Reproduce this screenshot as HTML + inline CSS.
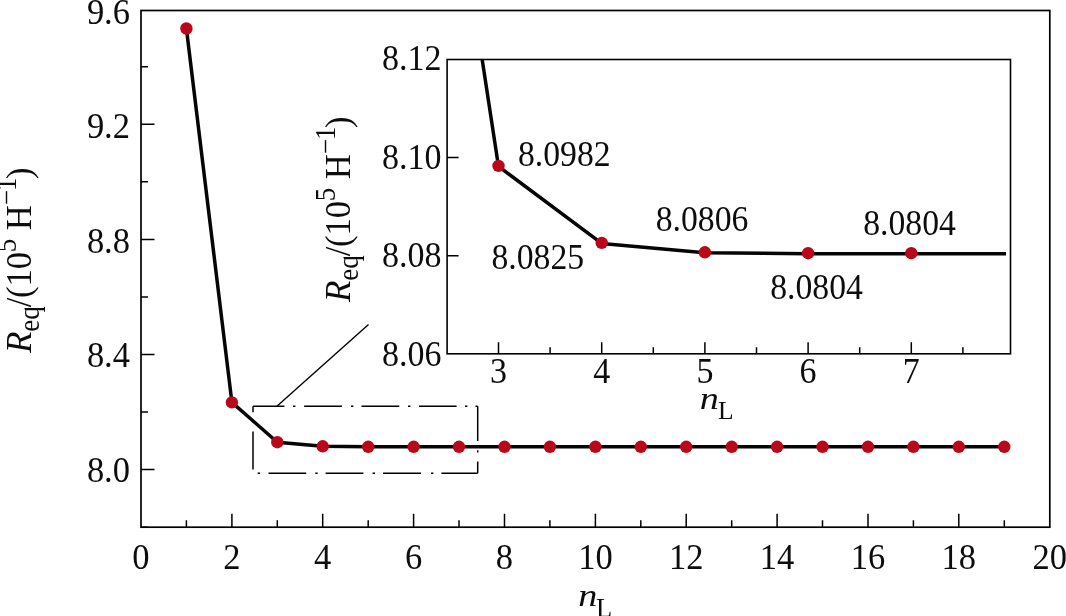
<!DOCTYPE html>
<html lang="en"><head><meta charset="utf-8"><title>Req vs nL</title>
<style>html,body{margin:0;padding:0;background:#fff}body{width:1066px;height:616px;overflow:hidden}svg{display:block}text{font-family:"Liberation Serif","Times New Roman",serif;fill:#0d0d0d}</style></head><body>
<svg width="1066" height="616" viewBox="0 0 1066 616">
<rect width="1066" height="616" fill="#fff"/>
<rect x="141.0" y="10.5" width="908.8" height="516.7" fill="none" stroke="#000" stroke-width="1.7"/>
<path d="M186.4,527.2v-7M231.9,527.2v-13.5M277.3,527.2v-7M322.7,527.2v-13.5M368.2,527.2v-7M413.6,527.2v-13.5M459.0,527.2v-7M504.5,527.2v-13.5M549.9,527.2v-7M595.4,527.2v-13.5M640.8,527.2v-7M686.2,527.2v-13.5M731.7,527.2v-7M777.1,527.2v-13.5M822.5,527.2v-7M868.0,527.2v-13.5M913.4,527.2v-7M958.8,527.2v-13.5M1004.3,527.2v-7M141.0,66.7h7M141.0,124.2h13.5M141.0,181.8h7M141.0,239.4h13.5M141.0,296.9h7M141.0,354.5h13.5M141.0,412.0h7M141.0,469.6h13.5M141.0,527.2h7" stroke="#000" stroke-width="1.5" fill="none"/>
<text transform="translate(141.0,568.8) scale(1,1.06)" font-size="34.5" text-anchor="middle">0</text>
<text transform="translate(231.9,568.8) scale(1,1.06)" font-size="34.5" text-anchor="middle">2</text>
<text transform="translate(322.7,568.8) scale(1,1.06)" font-size="34.5" text-anchor="middle">4</text>
<text transform="translate(413.6,568.8) scale(1,1.06)" font-size="34.5" text-anchor="middle">6</text>
<text transform="translate(504.5,568.8) scale(1,1.06)" font-size="34.5" text-anchor="middle">8</text>
<text transform="translate(595.4,568.8) scale(1,1.06)" font-size="34.5" text-anchor="middle">10</text>
<text transform="translate(686.2,568.8) scale(1,1.06)" font-size="34.5" text-anchor="middle">12</text>
<text transform="translate(777.1,568.8) scale(1,1.06)" font-size="34.5" text-anchor="middle">14</text>
<text transform="translate(868.0,568.8) scale(1,1.06)" font-size="34.5" text-anchor="middle">16</text>
<text transform="translate(958.8,568.8) scale(1,1.06)" font-size="34.5" text-anchor="middle">18</text>
<text transform="translate(1049.7,568.8) scale(1,1.06)" font-size="34.5" text-anchor="middle">20</text>
<text transform="translate(130.0,23.6) scale(1,1.06)" font-size="34.5" text-anchor="end">9.6</text>
<text transform="translate(130.0,138.1) scale(1,1.06)" font-size="34.5" text-anchor="end">9.2</text>
<text transform="translate(130.0,252.6) scale(1,1.06)" font-size="34.5" text-anchor="end">8.8</text>
<text transform="translate(130.0,367.2) scale(1,1.06)" font-size="34.5" text-anchor="end">8.4</text>
<text transform="translate(130.0,481.7) scale(1,1.06)" font-size="34.5" text-anchor="end">8.0</text>
<text transform="translate(578.3,606.3) scale(1.06,0.9)" font-size="36" font-style="italic">n</text>
<text x="596.1" y="616.8" font-size="26.5">L</text>
<g transform="translate(30.5,353) rotate(-90)">
<text x="0" y="0" font-size="35" font-style="italic">R</text>
<text transform="translate(21.3,0) scale(1,1.06)" font-size="34.5"><tspan font-size="27" dy="8">eq</tspan><tspan dy="-8" dx="-1">/</tspan><tspan dx="-0.3">(10</tspan><tspan font-size="27" dy="-14" dx="-0.4">5</tspan><tspan dy="14"> H</tspan><tspan font-size="27" dy="-14">−</tspan><tspan font-size="27" dx="-1">1</tspan><tspan dy="14" dx="-1.5">)</tspan></text>
</g>
<path d="M253.0,406.2H284.4M293,406.2H295.4M304.1,406.2H341.8M351,406.2H353.4M361.5,406.2H399.3M408,406.2H410.4M419,406.2H456.6M465,406.2H467.4M475.5,406.2H477.7M477.7,406.2V441M477.7,450.3V452.6M477.7,461.5V473.2M441.4,473.2H477.7M431,473.2H433.4M383,473.2H421M372.6,473.2H375M325.6,473.2H363.4M315.3,473.2H317.7M268.5,473.2H306.2M257.7,473.2H260.1M253.0,406.2V412.3M253.0,420.5V422.8M253.0,431.5V469.5" stroke="#000" stroke-width="1.5" fill="none"/>
<path d="M276.6,406.4L368.5,324.4" stroke="#000" stroke-width="1.4" fill="none"/>
<polyline points="186.4,28.5 231.9,402.4 277.3,442.2 322.7,446.3 368.2,446.8 413.6,446.8 459.0,446.8 504.5,446.8 549.9,446.8 595.4,446.8 640.8,446.8 686.2,446.8 731.7,446.8 777.1,446.8 822.5,446.8 868.0,446.8 913.4,446.8 958.8,446.8 1004.3,446.8" fill="none" stroke="#050505" stroke-width="3.5" stroke-linejoin="round"/>
<circle cx="186.4" cy="28.5" r="6.2" fill="#b8081a"/>
<circle cx="231.9" cy="402.4" r="6.2" fill="#b8081a"/>
<circle cx="277.3" cy="442.2" r="6.2" fill="#b8081a"/>
<circle cx="322.7" cy="446.3" r="6.2" fill="#b8081a"/>
<circle cx="368.2" cy="446.8" r="6.2" fill="#b8081a"/>
<circle cx="413.6" cy="446.8" r="6.2" fill="#b8081a"/>
<circle cx="459.0" cy="446.8" r="6.2" fill="#b8081a"/>
<circle cx="504.5" cy="446.8" r="6.2" fill="#b8081a"/>
<circle cx="549.9" cy="446.8" r="6.2" fill="#b8081a"/>
<circle cx="595.4" cy="446.8" r="6.2" fill="#b8081a"/>
<circle cx="640.8" cy="446.8" r="6.2" fill="#b8081a"/>
<circle cx="686.2" cy="446.8" r="6.2" fill="#b8081a"/>
<circle cx="731.7" cy="446.8" r="6.2" fill="#b8081a"/>
<circle cx="777.1" cy="446.8" r="6.2" fill="#b8081a"/>
<circle cx="822.5" cy="446.8" r="6.2" fill="#b8081a"/>
<circle cx="868.0" cy="446.8" r="6.2" fill="#b8081a"/>
<circle cx="913.4" cy="446.8" r="6.2" fill="#b8081a"/>
<circle cx="958.8" cy="446.8" r="6.2" fill="#b8081a"/>
<circle cx="1004.3" cy="446.8" r="6.2" fill="#b8081a"/>
<rect x="447.1" y="59.5" width="563.4" height="294.3" fill="#fff" stroke="#000" stroke-width="1.6"/>
<path d="M498.5,353.8v-11.5M550.1,353.8v-6.5M601.7,353.8v-11.5M653.3,353.8v-6.5M704.9,353.8v-11.5M756.5,353.8v-6.5M808.1,353.8v-11.5M859.7,353.8v-6.5M911.3,353.8v-11.5M962.9,353.8v-6.5M447.1,157.6h11.5M447.1,255.7h11.5" stroke="#000" stroke-width="1.5" fill="none"/>
<text transform="translate(498.5,383.1) scale(1,1.06)" font-size="34.0" text-anchor="middle">3</text>
<text transform="translate(601.7,383.1) scale(1,1.06)" font-size="34.0" text-anchor="middle">4</text>
<text transform="translate(704.9,383.1) scale(1,1.06)" font-size="34.0" text-anchor="middle">5</text>
<text transform="translate(808.1,383.1) scale(1,1.06)" font-size="34.0" text-anchor="middle">6</text>
<text transform="translate(911.3,383.1) scale(1,1.06)" font-size="34.0" text-anchor="middle">7</text>
<text transform="translate(441.5,69.8) scale(1,1.06)" font-size="34.0" text-anchor="end">8.12</text>
<text transform="translate(441.5,168.5) scale(1,1.06)" font-size="34.0" text-anchor="end">8.10</text>
<text transform="translate(441.5,267.1) scale(1,1.06)" font-size="34.0" text-anchor="end">8.08</text>
<text transform="translate(441.5,365.8) scale(1,1.06)" font-size="34.0" text-anchor="end">8.06</text>
<text transform="translate(699.7,409.4) scale(1.06,0.9)" font-size="36" font-style="italic">n</text>
<text x="718.1" y="418.8" font-size="25.5">L</text>
<g transform="translate(349.7,302) rotate(-90)">
<text x="0" y="0" font-size="35" font-style="italic">R</text>
<text transform="translate(21.3,0) scale(1,1.06)" font-size="34.5"><tspan font-size="27" dy="8">eq</tspan><tspan dy="-8" dx="-1">/</tspan><tspan dx="-0.3">(10</tspan><tspan font-size="27" dy="-14" dx="-0.4">5</tspan><tspan dy="14"> H</tspan><tspan font-size="27" dy="-14">−</tspan><tspan font-size="27" dx="-1">1</tspan><tspan dy="14" dx="-1.5">)</tspan></text>
</g>
<clipPath id="ic"><rect x="447.1" y="59.5" width="558.9" height="294.3"/></clipPath>
<polyline points="395.3,-509.5 498.5,166.4 601.7,243.4 704.9,252.8 808.1,253.7 911.3,253.7 1014.5,253.7" fill="none" stroke="#050505" stroke-width="3.5" stroke-linejoin="round" clip-path="url(#ic)"/>
<circle cx="498.5" cy="165.9" r="6.2" fill="#b8081a"/>
<circle cx="601.7" cy="242.9" r="6.2" fill="#b8081a"/>
<circle cx="704.9" cy="252.3" r="6.2" fill="#b8081a"/>
<circle cx="808.1" cy="253.2" r="6.2" fill="#b8081a"/>
<circle cx="911.3" cy="253.2" r="6.2" fill="#b8081a"/>
<text transform="translate(518.0,165.5) scale(1,1.06)" font-size="33.7">8.0982</text>
<text transform="translate(491.5,269.3) scale(1,1.06)" font-size="33.7">8.0825</text>
<text transform="translate(655.7,230.7) scale(1,1.06)" font-size="33.7">8.0806</text>
<text transform="translate(770.2,298.8) scale(1,1.06)" font-size="33.7">8.0804</text>
<text transform="translate(863.2,234.5) scale(1,1.06)" font-size="33.7">8.0804</text>
</svg></body></html>
